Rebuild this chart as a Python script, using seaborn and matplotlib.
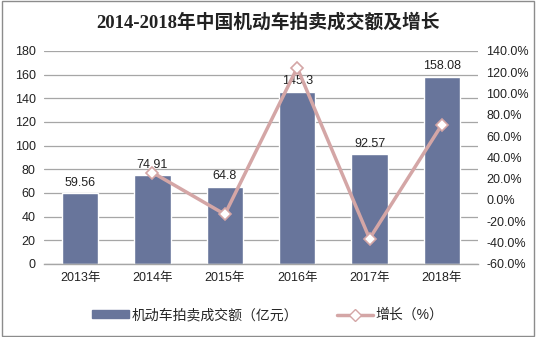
import matplotlib
matplotlib.use("Agg")
import matplotlib.pyplot as plt
import seaborn as sns
import numpy as np
import pandas as pd
from matplotlib.patches import Rectangle
from matplotlib.lines import Line2D
from matplotlib.ticker import FuncFormatter, MultipleLocator

years = ["2013年", "2014年", "2015年", "2016年", "2017年", "2018年"]
amount = [59.56, 74.91, 64.8, 145.3, 92.57, 158.08]
growth_years = ["2014年", "2015年", "2016年", "2017年", "2018年"]
growth = [25.8, -13.5, 124.2, -36.3, 70.8]

title = "2014-2018年中国机动车拍卖成交额及增长"
bar_label = "机动车拍卖成交额（亿元）"
line_label = "增长（%）"

sns.set_theme(style="white")
plt.rcParams['font.family'] = ['Liberation Sans', 'Noto Sans CJK SC', 'DejaVu Sans']

bar_color = "#68759B"
line_color = "#D4A6A6"

fig = plt.figure(figsize=(5.36, 3.37), dpi=100)
ax = fig.add_axes([0.082, 0.217, 0.810, 0.632])

df = pd.DataFrame({"year": years, "amount": amount})
sns.barplot(data=df, x="year", y="amount", color=bar_color, width=0.5,
            saturation=1, ax=ax, zorder=2)
ax.set_ylim(0, 180)
ax.yaxis.set_major_locator(MultipleLocator(20))
ax.set_xlim(-0.5, len(years) - 0.5)
ax.set_xlabel("")
ax.set_ylabel("")
ax.grid(axis="y", color="#A6A6A6", linewidth=0.9, zorder=0)
ax.set_axisbelow(True)
for s in ["top", "left", "right"]:
    ax.spines[s].set_visible(False)
ax.spines["bottom"].set_color("#A6A6A6")
ax.spines["bottom"].set_linewidth(1.0)
ax.tick_params(axis="x", length=0, labelsize=9, colors="#222222", pad=6)
ax.tick_params(axis="y", length=0, labelsize=9, colors="#222222", pad=6)
for t in ax.get_xticklabels():
    t.set_fontfamily(['Liberation Sans', 'Noto Sans CJK SC'])
# boundary tick marks
ax.set_xticks(np.arange(-0.5, len(years), 1.0), minor=True)
ax.tick_params(axis="x", which="minor", length=4, color="#A6A6A6", width=1, direction="out")

for i, v in enumerate(amount):
    ax.text(i, v + 4, f"{v:g}", ha="center", va="bottom", fontsize=9, color="#222222")

ax2 = ax.twinx()
xpos = [years.index(y) for y in growth_years]
sns.lineplot(x=xpos, y=growth, ax=ax2, color=line_color, linewidth=2.5,
             marker="D", markersize=6, markerfacecolor="white",
             markeredgecolor=line_color, markeredgewidth=1.2, zorder=3)
ax2.set_ylim(-60, 140)
ax2.yaxis.set_major_locator(MultipleLocator(20))
ax2.yaxis.set_major_formatter(FuncFormatter(lambda v, p: f"{v:.1f}%"))
ax2.tick_params(axis="y", length=0, labelsize=9, colors="#222222", pad=6)
for s in ["top", "left", "right", "bottom"]:
    ax2.spines[s].set_visible(False)
ax2.set_xlim(-0.5, len(years) - 0.5)

fig.text(0.5, 0.935, title, ha="center", va="center", fontsize=13.5,
         fontweight="bold", family=['Liberation Serif', 'Noto Sans CJK SC'], color="#222222")

handles = [Rectangle((0, 0), 1, 1, color=bar_color),
           Line2D([0], [0], color=line_color, linewidth=2.5, marker="D",
                  markersize=6, markerfacecolor="white", markeredgecolor=line_color)]
fig.legend(handles, [bar_label, line_label], loc="center", bbox_to_anchor=(0.5, 0.065),
           ncol=2, frameon=False, fontsize=10, handlelength=2.6, handleheight=0.5,
           columnspacing=2.8, handletextpad=0.2)

fig.patches.append(Rectangle((0.003, 0.004), 0.994, 0.992, transform=fig.transFigure,
                             fill=False, edgecolor="#8C8C8C", linewidth=1.0))

fig.savefig("out.png", dpi=100)
